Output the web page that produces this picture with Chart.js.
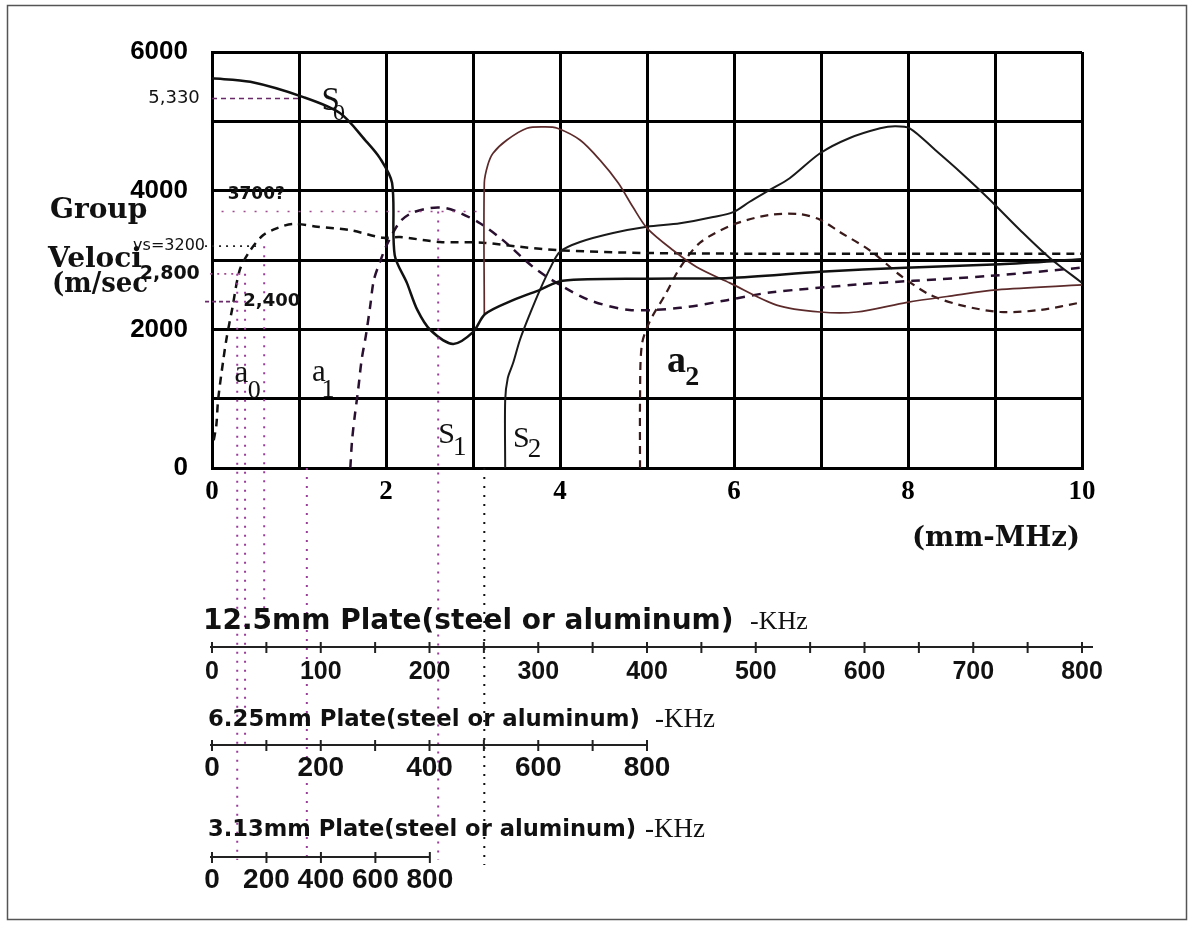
<!DOCTYPE html>
<html>
<head>
<meta charset="utf-8">
<title>Lamb wave group velocity</title>
<script src="https://cdn.jsdelivr.net/npm/chart.js@4.4.1/dist/chart.umd.min.js"></script>
<style>
  html, body { margin: 0; padding: 0; background: #fff; }
  #wrap { width: 1193px; height: 926px; }
</style>
</head>
<body>
<div id="wrap"><canvas id="chart" width="1193" height="926"></canvas></div>
<script>
// frequency-thickness product (mm-MHz) vs group velocity (m/sec)
const s0Fd = [0, 0.44, 1.05, 1.47, 1.76, 1.93, 2.07, 2.1, 2.24, 2.36, 2.51, 2.77, 3.0, 3.14, 3.46, 3.77, 4.03, 5.03, 5.95, 6.99, 7.97, 9.06, 10];
const s0Vg = [5620, 5570, 5350, 5120, 4730, 4470, 4110, 3070, 2670, 2280, 1990, 1790, 1960, 2220, 2420, 2570, 2700, 2730, 2740, 2830, 2890, 2940, 3010];

const s1Fd = [3.13, 3.13, 3.17, 3.23, 3.39, 3.62, 3.83, 3.97, 4.23, 4.46, 4.67, 4.84, 5.0, 5.3, 5.57, 5.95, 6.49, 6.99, 7.41, 7.99, 8.48, 9.02, 10];
const s1Vg = [2220, 4110, 4370, 4540, 4730, 4900, 4920, 4900, 4730, 4440, 4110, 3760, 3460, 3140, 2900, 2670, 2350, 2250, 2250, 2390, 2480, 2570, 2640];

const s2Fd = [3.37, 3.37, 3.4, 3.46, 3.54, 3.66, 3.77, 3.89, 4.0, 4.23, 4.61, 5.0, 5.38, 5.76, 5.99, 6.18, 6.41, 6.64, 6.99, 7.33, 7.68, 7.85, 8.02, 8.31, 8.6, 8.94, 9.29, 9.63, 10];
const s2Vg = [0, 980, 1300, 1510, 1850, 2240, 2570, 2890, 3120, 3260, 3390, 3480, 3530, 3620, 3690, 3840, 4010, 4180, 4540, 4760, 4900, 4930, 4900, 4590, 4270, 3870, 3430, 3030, 2670];

const a0Fd = [0.02, 0.05, 0.07, 0.13, 0.17, 0.23, 0.32, 0.44, 0.59, 0.75, 0.93, 1.21, 1.59, 1.97, 2.16, 2.62, 3.11, 3.54, 4.0, 5.03, 6.99, 10];
const a0Vg = [400, 620, 980, 1560, 1890, 2280, 2860, 3140, 3360, 3460, 3520, 3480, 3430, 3320, 3330, 3260, 3250, 3190, 3140, 3100, 3090, 3090];

const a1Fd = [1.59, 1.61, 1.64, 1.68, 1.72, 1.77, 1.82, 1.86, 1.93, 2.01, 2.16, 2.3, 2.51, 2.68, 2.85, 3.08, 3.34, 3.69, 4.0, 4.34, 4.8, 5.38, 5.92, 6.41, 7.45, 8.06, 8.94, 10];
const a1Vg = [0, 400, 740, 1130, 1560, 1920, 2350, 2710, 2970, 3220, 3550, 3680, 3750, 3750, 3680, 3530, 3290, 2900, 2640, 2420, 2280, 2310, 2420, 2530, 2650, 2700, 2770, 2890];

const a2Fd = [4.92, 4.92, 4.94, 5.03, 5.21, 5.38, 5.61, 5.99, 6.41, 6.76, 6.99, 7.22, 7.56, 7.91, 8.25, 8.6, 9.06, 9.52, 10];
const a2Vg = [0, 980, 1770, 2110, 2500, 2890, 3250, 3510, 3650, 3660, 3580, 3400, 3140, 2780, 2500, 2350, 2250, 2280, 2390];

// marked velocities on the left and guide lines dropped to the frequency rulers
const refVelocity = [5330, 3700, 3200, 2800, 2400];
const refText = ['5,330', '3700?', 'vs=3200', '2,800', '2,400'];
const guideFd = [0.29, 0.38, 0.6, 1.09, 2.6, 3.13];

// frequency rulers below the chart
const plateMm = [12.5, 6.25, 3.13];
const plateTitles = ['12.5mm Plate(steel or aluminum)', '6.25mm Plate(steel or aluminum)', '3.13mm Plate(steel or aluminum)'];
const plateTickKhz = [50, 100, 200];
const plate125Labels = [0, 100, 200, 300, 400, 500, 600, 700, 800];
const plate625Labels = [0, 200, 400, 600, 800];
const plate313Labels = [0, 200, 400, 600, 800];
const plateMaxKhz = 800;

const toPoints = (xs, ys) => xs.map((x, i) => ({ x: x, y: ys[i] }));

const overlay = {
  id: 'overlay',
  beforeDraw(chart) {
    const ctx = chart.ctx;
    ctx.save();
    ctx.fillStyle = '#fff';
    ctx.fillRect(0, 0, chart.width, chart.height);
    ctx.strokeStyle = '#555';
    ctx.lineWidth = 1.5;
    ctx.strokeRect(7.5, 5.5, 1179, 914);
    ctx.restore();
  },
  afterDraw(chart) {
    const ctx = chart.ctx;
    const X = v => chart.scales.x.getPixelForValue(v);
    const Y = v => chart.scales.y.getPixelForValue(v);
    ctx.save();

    // horizontal reference marks
    const refStyle = [
      { from: 0, to: 1.0, color: '#6a2a6a', dash: [5, 4] },
      { from: 0.11, to: 3.05, color: '#a04a90', dash: [2, 9] },
      { from: -0.08, to: 0.55, color: '#222', dash: [2, 5] },
      { from: -0.02, to: 0.36, color: '#a04a90', dash: [2, 5] },
      { from: -0.08, to: 0.29, color: '#6a2a6a', dash: [4, 3] }
    ];
    refVelocity.forEach((v, i) => {
      const st = refStyle[i];
      ctx.beginPath();
      ctx.setLineDash(st.dash);
      ctx.strokeStyle = st.color;
      ctx.lineWidth = 1.6;
      ctx.moveTo(X(st.from), Y(v));
      ctx.lineTo(X(st.to), Y(v));
      ctx.stroke();
    });
    ctx.setLineDash([]);

    // vertical guides
    const guideTop = [2800, 2800, 3200, 0, 3700, 0];
    const guideEnd = [860, 745, 630, 860, 860, 865];
    guideFd.forEach((fd, i) => {
      ctx.beginPath();
      ctx.setLineDash([2, 7]);
      ctx.strokeStyle = i === 5 ? '#111' : '#9a3c9a';
      ctx.lineWidth = 2;
      ctx.moveTo(X(fd), Y(guideTop[i]));
      ctx.lineTo(X(fd), guideEnd[i]);
      ctx.stroke();
    });
    ctx.setLineDash([]);

    // reference labels
    ctx.fillStyle = '#111';
    ctx.textBaseline = 'middle';
    const refLab = [
      { x: -0.14, y: 5330, align: 'right', font: '18px "DejaVu Sans"' },
      { x: 0.18, y: 3940, align: 'left', font: 'bold 17px "DejaVu Sans"' },
      { x: -0.08, y: 3200, align: 'right', font: '16px "DejaVu Sans"' },
      { x: -0.14, y: 2800, align: 'right', font: 'bold 19px "DejaVu Sans"' },
      { x: 0.36, y: 2400, align: 'left', font: 'bold 18px "DejaVu Sans"' }
    ];
    refText.forEach((t, i) => {
      const l = refLab[i];
      ctx.font = l.font;
      ctx.textAlign = l.align;
      ctx.fillText(t, X(l.x), Y(l.y));
    });

    // axis titles
    ctx.textAlign = 'left';
    ctx.textBaseline = 'alphabetic';
    ctx.font = 'bold 28px "DejaVu Serif"';
    ctx.fillText('Group', 50, 218, 100);
    ctx.fillText('Veloci', 48, 267, 102);
    ctx.fillText('(m/sec', 52, 292, 96);
    ctx.fillText('(mm-MHz)', 912, 546, 168);

    // mode names
    const tags = [
      { m: 'S', s: '0', at: [1.26, 5160], sub: [1.39, 5020], f: '33px "Liberation Serif"', sf: '24px "Liberation Serif"' },
      { m: 'a', s: '0', at: [0.26, 1240], sub: [0.41, 1010], f: '31px "Liberation Serif"', sf: '26px "Liberation Serif"' },
      { m: 'a', s: '1', at: [1.15, 1255], sub: [1.26, 1025], f: '31px "Liberation Serif"', sf: '26px "Liberation Serif"' },
      { m: 'S', s: '1', at: [2.6, 360], sub: [2.77, 190], f: '30px "Liberation Serif"', sf: '27px "Liberation Serif"' },
      { m: 'S', s: '2', at: [3.46, 300], sub: [3.63, 160], f: '30px "Liberation Serif"', sf: '27px "Liberation Serif"' },
      { m: 'a', s: '2', at: [5.23, 1385], sub: [5.44, 1200], f: 'bold 38px "Liberation Serif"', sf: 'bold 28px "Liberation Serif"' }
    ];
    tags.forEach(t => {
      ctx.font = t.f;
      ctx.fillText(t.m, X(t.at[0]), Y(t.at[1]));
      ctx.font = t.sf;
      ctx.fillText(t.s, X(t.sub[0]), Y(t.sub[1]));
    });

    // frequency rulers
    const rows = [
      { titleX: 203, titleY: 622, lineY: 647, labelY: 672, tf: 'bold 28px "DejaVu Sans"', tw: 535, khzX: 750, kf: '26px "Liberation Serif"', lf: 'bold 25px "Liberation Sans"', over: 11, labels: plate125Labels },
      { titleX: 208, titleY: 720, lineY: 745, labelY: 768, tf: 'bold 23px "DejaVu Sans"', tw: 432, khzX: 655, kf: '27px "Liberation Serif"', lf: 'bold 28px "Liberation Sans"', over: 0, labels: plate625Labels },
      { titleX: 208, titleY: 830, lineY: 857, labelY: 880, tf: 'bold 23px "DejaVu Sans"', tw: 428, khzX: 645, kf: '27px "Liberation Serif"', lf: 'bold 28px "Liberation Sans"', over: 0, labels: plate313Labels }
    ];
    rows.forEach((r, i) => {
      const d = plateMm[i];
      const fx = khz => X(khz * d / 1000);
      ctx.fillStyle = '#111';
      ctx.textBaseline = 'middle';
      ctx.textAlign = 'left';
      ctx.font = r.tf;
      ctx.fillText(plateTitles[i], r.titleX, r.titleY, r.tw);
      ctx.font = r.kf;
      ctx.fillText('-KHz', r.khzX, r.titleY);

      ctx.strokeStyle = '#222';
      ctx.lineWidth = 2;
      ctx.beginPath();
      ctx.moveTo(fx(0) - 2, r.lineY);
      ctx.lineTo(fx(plateMaxKhz) + r.over, r.lineY);
      ctx.stroke();
      for (let k = 0; k <= plateMaxKhz; k += plateTickKhz[i]) {
        ctx.beginPath();
        ctx.moveTo(fx(k), r.lineY - 5);
        ctx.lineTo(fx(k), r.lineY + 6);
        ctx.stroke();
      }
      ctx.font = r.lf;
      ctx.textAlign = 'center';
      r.labels.forEach(k => ctx.fillText(String(k), fx(k), r.labelY));
    });

    ctx.restore();
  }
};

new Chart(document.getElementById('chart'), {
  type: 'line',
  data: {
    datasets: [
      { label: 'S0', data: toPoints(s0Fd, s0Vg), borderColor: '#111', borderWidth: 2.5 },
      { label: 'S1', data: toPoints(s1Fd, s1Vg), borderColor: '#5c2a2a', borderWidth: 1.7 },
      { label: 'S2', data: toPoints(s2Fd, s2Vg), borderColor: '#1a1a1a', borderWidth: 2 },
      { label: 'a0', data: toPoints(a0Fd, a0Vg), borderColor: '#111', borderWidth: 2.5, borderDash: [8, 6] },
      { label: 'a1', data: toPoints(a1Fd, a1Vg), borderColor: '#2a1030', borderWidth: 2.5, borderDash: [9, 7] },
      { label: 'a2', data: toPoints(a2Fd, a2Vg), borderColor: '#3a1a1a', borderWidth: 2.2, borderDash: [8, 6] }
    ]
  },
  options: {
    responsive: false,
    devicePixelRatio: 1,
    animation: false,
    events: [],
    layout: { padding: { top: 52, right: 111, bottom: 0, left: 0 } },
    elements: {
      point: { radius: 0, hoverRadius: 0 },
      line: { tension: 0.3, fill: false }
    },
    plugins: {
      legend: { display: false },
      tooltip: { enabled: false }
    },
    scales: {
      x: {
        type: 'linear',
        min: 0,
        max: 10,
        afterFit: s => { s.height = 458; },
        grid: { color: '#000', lineWidth: 3, drawTicks: false },
        border: { color: '#000', width: 3 },
        ticks: {
          stepSize: 1,
          autoSkip: false,
          maxRotation: 0,
          padding: 8,
          color: '#000',
          font: { family: 'Liberation Serif', size: 27, weight: 'bold' },
          callback: v => (v % 2 === 0 ? String(v) : '')
        }
      },
      y: {
        min: 0,
        max: 6000,
        afterFit: s => { s.width = 212; },
        grid: { color: '#000', lineWidth: 3, drawTicks: false },
        border: { color: '#000', width: 3 },
        ticks: {
          stepSize: 1000,
          autoSkip: false,
          padding: 24,
          color: '#000',
          font: { family: 'Liberation Sans', size: 26, weight: 'bold' },
          callback: v => (v % 2000 === 0 ? String(v) : '')
        }
      }
    }
  },
  plugins: [overlay]
});
</script>
</body>
</html>
